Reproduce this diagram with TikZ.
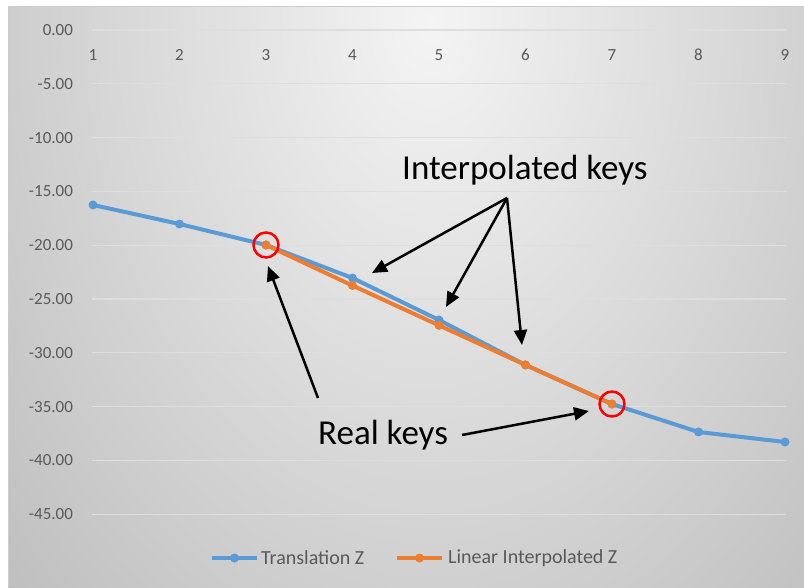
\documentclass[tikz,border=0pt]{standalone}
\usepackage{fontspec}
\setmainfont{Carlito}
\usepackage{tikz}
\usetikzlibrary{arrows.meta}
\definecolor{seriesblue}{HTML}{5B9BD5}
\definecolor{seriesorange}{HTML}{ED7D31}
\definecolor{labelgray}{HTML}{595959}
\definecolor{gridgray}{HTML}{DEDEDE}
\definecolor{paneltop}{HTML}{F4F4F4}
\definecolor{paneledge}{HTML}{A4A4A4}

\begin{document}
\begin{tikzpicture}[x=1pt, y=-1pt,
    axislabel/.style={text=labelgray, font=\fontsize{17}{17}\selectfont, inner sep=0pt},
    gridline/.style={draw=gridgray, line width=1.2pt},
    blueline/.style={draw=seriesblue, line width=4pt, line join=round},
    orangeline/.style={draw=seriesorange, line width=4pt, line join=round},
    bluedot/.style={circle, fill=seriesblue, inner sep=0pt, minimum size=9pt},
    orangedot/.style={circle, fill=seriesorange, inner sep=0pt, minimum size=9pt},
    keymark/.style={circle, draw=red, line width=2.5pt, inner sep=0pt, minimum size=25pt},
    callout/.style={font=\fontsize{35}{35}\selectfont, inner sep=0pt, anchor=base west},
    pointer/.style={line width=2.5pt, -{Triangle[length=15pt,width=13pt]}},
    legendtext/.style={text=labelgray, font=\fontsize{20}{20}\selectfont, inner sep=0pt, anchor=west}]

    % Background
    \useasboundingbox (0,0) rectangle (804,587);
    \fill[white] (0,0) rectangle (804,587);
    \begin{scope}
        \clip (8,6) rectangle (804,587);
        \shade[inner color=paneltop, outer color=paneledge] (430,20) ellipse (880pt and 1250pt);
    \end{scope}
    \draw[gray!40, line width=0.6pt] (8,587) -- (8,6) -- (804,6);

    \begin{scope}[shift={(6.5,30)}, x=86.5pt, y=10.76pt]
        % Grid
        \draw[gridline] (0.99,0) -- (9.01,0);
        \draw[gridline] (0.99,-5) -- (9.01,-5);
        \draw[gridline] (0.99,-10) -- (9.01,-10);
        \draw[gridline] (0.99,-15) -- (9.01,-15);
        \draw[gridline] (0.99,-20) -- (9.01,-20);
        \draw[gridline] (0.99,-25) -- (9.01,-25);
        \draw[gridline] (0.99,-30) -- (9.01,-30);
        \draw[gridline] (0.99,-35) -- (9.01,-35);
        \draw[gridline] (0.99,-40) -- (9.01,-40);
        \draw[gridline] (0.99,-45) -- (9.01,-45);

        % Axis labels
        \node[axislabel, anchor=east] (y0) at (0.77,0) {0.00};
        \node[axislabel, anchor=east] (y5) at (0.77,-5) {-5.00};
        \node[axislabel, anchor=east] (y10) at (0.77,-10) {-10.00};
        \node[axislabel, anchor=east] (y15) at (0.77,-15) {-15.00};
        \node[axislabel, anchor=east] (y20) at (0.77,-20) {-20.00};
        \node[axislabel, anchor=east] (y25) at (0.77,-25) {-25.00};
        \node[axislabel, anchor=east] (y30) at (0.77,-30) {-30.00};
        \node[axislabel, anchor=east] (y35) at (0.77,-35) {-35.00};
        \node[axislabel, anchor=east] (y40) at (0.77,-40) {-40.00};
        \node[axislabel, anchor=east] (y45) at (0.77,-45) {-45.00};
        \node[axislabel] (x1) at (1,-2.3) {1};
        \node[axislabel] (x2) at (2,-2.3) {2};
        \node[axislabel] (x3) at (3,-2.3) {3};
        \node[axislabel] (x4) at (4,-2.3) {4};
        \node[axislabel] (x5) at (5,-2.3) {5};
        \node[axislabel] (x6) at (6,-2.3) {6};
        \node[axislabel] (x7) at (7,-2.3) {7};
        \node[axislabel] (x8) at (8,-2.3) {8};
        \node[axislabel] (x9) at (9,-2.3) {9};

        % Translation Z
        \node[bluedot] (b1) at (1,-16.26) {};
        \node[bluedot] (b2) at (2,-18.03) {};
        \node[bluedot] (b3) at (3,-19.98) {};
        \node[bluedot] (b4) at (4,-23.05) {};
        \node[bluedot] (b5) at (5,-26.95) {};
        \node[bluedot] (b6) at (6,-31.13) {};
        \node[bluedot] (b7) at (7,-34.76) {};
        \node[bluedot] (b8) at (8,-37.36) {};
        \node[bluedot] (b9) at (9,-38.29) {};
        \draw[blueline] (b1.center) -- (b2.center) -- (b3.center) -- (b4.center) -- (b5.center)
            -- (b6.center) -- (b7.center) -- (b8.center) -- (b9.center);

        % Linear Interpolated Z
        \node[orangedot] (o3) at (3,-19.98) {};
        \node[orangedot] (o4) at (4,-23.75) {};
        \node[orangedot] (o5) at (5,-27.45) {};
        \node[orangedot] (o6) at (6,-31.13) {};
        \node[orangedot] (o7) at (7,-34.76) {};
        \draw[orangeline] (o3.center) -- (o4.center) -- (o5.center) -- (o6.center) -- (o7.center);

        % Real keys
        \node[keymark] (k3) at (o3) {};
        \node[keymark] (k7) at (o7) {};
    \end{scope}

    % Callouts
    \node[callout] (interp) at (402,179) {Interpolated keys};
    \node[callout] (real) at (318,444) {Real keys};
    \coordinate (fan) at (507,198);
    \coordinate (t4) at (372,273);
    \coordinate (t5) at (446,307);
    \coordinate (t6) at (522,345);
    \coordinate (r3) at (268,266);
    \coordinate (r7) at (589,411);
    \coordinate (realtop) at (318,398);
    \coordinate (realright) at (462,435);
    \draw[pointer] (fan) -- (t4);
    \draw[pointer] (fan) -- (t5);
    \draw[pointer] (fan) -- (t6);
    \draw[pointer] (realtop) -- (r3);
    \draw[pointer] (realright) -- (r7);

    % Legend
    \node[bluedot] (lb) at (234.5,558) {};
    \draw[blueline] (212,558) -- (lb.center) -- (257,558);
    \node[legendtext] (lbtext) at (261,558) {Translation Z};
    \node[orangedot] (lo) at (419.5,558) {};
    \draw[orangeline] (397,558) -- (lo.center) -- (442,558);
    \node[legendtext] (lotext) at (448,558) {Linear Interpolated Z};
\end{tikzpicture}
\end{document}
